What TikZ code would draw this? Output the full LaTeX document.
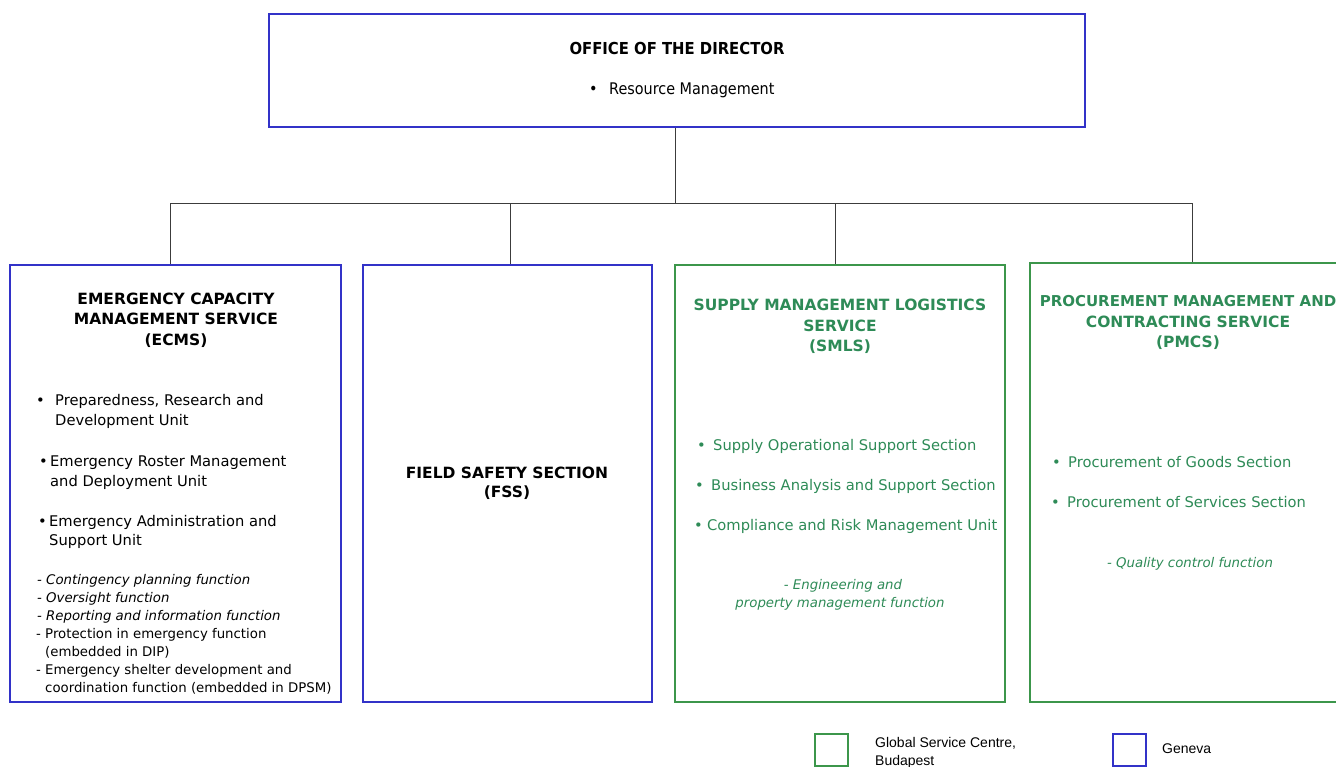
\documentclass[tikz,border=0pt]{standalone}
\usepackage{fontspec}
\newfontfamily\dv{DejaVu Sans}
\newfontfamily\dvc{DejaVu Sans Condensed}
\newfontfamily\lib{Liberation Sans}
\definecolor{bblue}{RGB}{50,50,200}
\definecolor{bgreen}{RGB}{60,150,75}
\definecolor{tgreen}{RGB}{46,139,87}
\definecolor{lgray}{RGB}{60,60,60}
\tikzset{
  box/.style={draw, line width=1.6pt, inner sep=0pt, fill=white},
  bluebox/.style={box, draw=bblue},
  greenbox/.style={box, draw=bgreen},
  conn/.style={draw=lgray, line width=0.9pt},
  txt/.style={anchor=base west, inner sep=0pt, font=\dv\fontsize{14.7}{17}\selectfont},
  itx/.style={txt, font=\dv\itshape\fontsize{13.3}{15}\selectfont},
  rtx/.style={txt, font=\dv\fontsize{13.3}{15}\selectfont},
  ttl/.style={anchor=base, inner sep=0pt, font=\dv\bfseries\fontsize{15.5}{18}\selectfont},
  lgd/.style={anchor=base west, inner sep=0pt, font=\lib\fontsize{14}{17}\selectfont},
}
\begin{document}
\begin{tikzpicture}[x=1pt,y=-1pt]
\useasboundingbox (0,0) rectangle (1336,767);
% boxes
\node[bluebox, minimum width=816pt, minimum height=113pt] (top) at (677,70.5) {};
\node[bluebox, minimum width=331pt, minimum height=437pt] (ecms) at (175.5,483.5) {};
\node[bluebox, minimum width=289pt, minimum height=437pt] (fss) at (507.5,483.5) {};
\node[greenbox, minimum width=330pt, minimum height=437pt] (smls) at (840,483.5) {};
\node[greenbox, minimum width=324pt, minimum height=439pt] (pmcs) at (1192,482.5) {};
% connectors
\coordinate (j) at (675,203);
\draw[conn] (j |- top.south) -- (j);
\draw[conn] ([xshift=-5.5pt]ecms.north) |- (pmcs.north |- j) -- (pmcs.north);
\draw[conn] ([xshift=2.5pt]fss.north) -- ([xshift=2.5pt]fss.north |- j);
\draw[conn] ([xshift=-5pt]smls.north) -- ([xshift=-5pt]smls.north |- j);
% top box text
\node[ttl, font=\dvc\bfseries\fontsize{16.5}{19}\selectfont] (t1) at (677,55) {OFFICE OF THE DIRECTOR};
\node[txt, font=\dvc\fontsize{16}{19}\selectfont] (t2) at (589,95) {•};
\node[txt, font=\dvc\fontsize{16}{19}\selectfont] (t3) at (609,95) {Resource Management};
% ECMS
\node[ttl] (e1) at (176,305) {EMERGENCY CAPACITY};
\node[ttl] (e2) at (176,325) {MANAGEMENT SERVICE};
\node[ttl] (e3) at (176,345) {(ECMS)};
\node[txt] (e4) at (36,405) {•};
\node[txt] (e5) at (55,405) {Preparedness, Research and};
\node[txt] (e6) at (55,425) {Development Unit};
\node[txt] (e7) at (39,466) {•};
\node[txt] (e8) at (50,466) {Emergency Roster Management};
\node[txt] (e9) at (50,486) {and Deployment Unit};
\node[txt] (e10) at (38,526) {•};
\node[txt] (e11) at (49,526) {Emergency Administration and};
\node[txt] (e12) at (49,545) {Support Unit};
\node[itx] (e13) at (37,584) {- Contingency planning function};
\node[itx] (e14) at (37,602) {- Oversight function};
\node[itx] (e15) at (37,620) {- Reporting and information function};
\node[rtx] (e16) at (36,638) {- Protection in emergency function};
\node[rtx] (e17) at (45,656) {(embedded in DIP)};
\node[rtx] (e18) at (36,674) {- Emergency shelter development and};
\node[rtx] (e19) at (45,692) {coordination function (embedded in DPSM)};
% FSS
\node[ttl] (f1) at (507,478) {FIELD SAFETY SECTION};
\node[ttl] (f2) at (507,497) {(FSS)};
% SMLS
\begin{scope}[text=tgreen]
\node[ttl] (s1) at (840,311) {SUPPLY MANAGEMENT LOGISTICS};
\node[ttl] (s2) at (840,331) {SERVICE};
\node[ttl] (s3) at (840,352) {(SMLS)};
\node[txt] (s4) at (697,450) {•};
\node[txt] (s5) at (713,450) {Supply Operational Support Section};
\node[txt] (s6) at (695,490) {•};
\node[txt] (s7) at (711,490) {Business Analysis and Support Section};
\node[txt] (s8) at (694,530) {•};
\node[txt] (s9) at (707,530) {Compliance and Risk Management Unit};
\node[itx, anchor=base] (s10) at (843,589) {- Engineering and};
\node[itx, anchor=base] (s11) at (840,607) {property management function};
% PMCS
\node[ttl, font=\dv\bfseries\fontsize{15}{18}\selectfont] (p1) at (1188,307) {PROCUREMENT MANAGEMENT AND};
\node[ttl] (p2) at (1188,327) {CONTRACTING SERVICE};
\node[ttl] (p3) at (1188,348) {(PMCS)};
\node[txt] (p4) at (1052,467) {•};
\node[txt] (p5) at (1068,467) {Procurement of Goods Section};
\node[txt] (p6) at (1051,507) {•};
\node[txt] (p7) at (1067,507) {Procurement of Services Section};
\node[itx] (p8) at (1107,567) {- Quality control function};
\end{scope}
% legend
\node[greenbox, line width=1.2pt, minimum width=33pt, minimum height=32pt] (lg) at (831.5,750) {};
\node[lgd] (lgt1) at (875,747) {Global Service Centre,};
\node[lgd] (lgt2) at (875,765) {Budapest};
\node[bluebox, line width=1.2pt, minimum width=33pt, minimum height=32pt] (lb) at (1129.5,750) {};
\node[lgd] (lbt) at (1162,753) {Geneva};
\end{tikzpicture}
\end{document}
